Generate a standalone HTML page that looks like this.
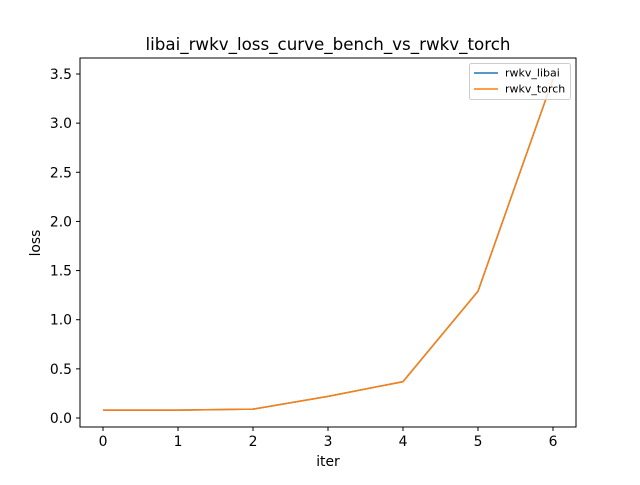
<!DOCTYPE html>
<html><head><meta charset="utf-8"><style>
body{margin:0;background:#fff}
text{font-family:"DejaVu Sans","Liberation Sans",sans-serif;fill:#000}
</style></head><body>
<svg id="chart" width="640" height="480" xmlns="http://www.w3.org/2000/svg">
<rect width="640" height="480" fill="#fff"/>
<text x="328" y="50" font-size="16.7" text-anchor="middle">libai_rwkv_loss_curve_bench_vs_rwkv_torch</text>
<g id="axes"></g>
<g id="series"></g>
<rect x="80" y="58" width="496" height="369" fill="none" stroke="#000" stroke-width="1"/>
<g>
<rect x="469.5" y="63.5" width="101" height="36" rx="2" fill="#fff" fill-opacity="0.8" stroke="#ccc"/>
<line x1="474" y1="73" x2="498" y2="73" stroke="#1f77b4" stroke-width="1.5"/>
<text x="505" y="76.5" font-size="11">rwkv_libai</text>
<line x1="474" y1="89" x2="498" y2="89" stroke="#ff7f0e" stroke-width="1.5"/>
<text x="505" y="92.5" font-size="11">rwkv_torch</text>
</g>
<text x="328" y="466" font-size="13.9" text-anchor="middle">iter</text>
<text transform="translate(40,243) rotate(-90)" font-size="13.9" text-anchor="middle">loss</text>
</svg>
<script>
const iters=[0,1,2,3,4,5,6];
const libaiLoss=[0.08,0.08,0.09,0.22,0.37,1.29,3.45];
const torchLoss=[0.08,0.08,0.09,0.22,0.37,1.29,3.45];
const xTicks=[0,1,2,3,4,5,6];
const yTicks=[0.0,0.5,1.0,1.5,2.0,2.5,3.0,3.5];
const NS="http://www.w3.org/2000/svg";
function xs(v){return 103+v*75;}
function ys(v){return 418-v*(344/3.5);}
const axes=document.getElementById('axes');
xTicks.forEach(t=>{
 const l=document.createElementNS(NS,'line');
 l.setAttribute('x1',xs(t));l.setAttribute('x2',xs(t));l.setAttribute('y1',427);l.setAttribute('y2',431);l.setAttribute('stroke','#000');
 
 
 axes.appendChild(l);
 const tx=document.createElementNS(NS,'text');
 tx.setAttribute('x',xs(t));tx.setAttribute('y',446);tx.setAttribute('font-size','13.9');tx.setAttribute('text-anchor','middle');tx.textContent=t;
 
 
 axes.appendChild(tx);
});
yTicks.forEach(t=>{
 const l=document.createElementNS(NS,'line');
 l.setAttribute('x1',76);l.setAttribute('x2',80);l.setAttribute('y1',ys(t));l.setAttribute('y2',ys(t));l.setAttribute('stroke','#000');
 
 
 axes.appendChild(l);
 const tx=document.createElementNS(NS,'text');
 tx.setAttribute('x',72);tx.setAttribute('y',ys(t)+5);tx.setAttribute('font-size','13.9');tx.setAttribute('text-anchor','end');tx.textContent=t.toFixed(1);
 
 
 axes.appendChild(tx);
});
const series=document.getElementById('series');
function line(vals,color,name){
 const p=document.createElementNS(NS,'polyline');
 p.setAttribute('points',vals.map((v,i)=>xs(iters[i])+','+ys(v)).join(' '));
 p.setAttribute('fill','none');p.setAttribute('stroke',color);p.setAttribute('stroke-width','1.5');
 
 
 series.appendChild(p);
}
line(libaiLoss,'#1f77b4','line-rwkv-libai');
line(torchLoss,'#ff7f0e','line-rwkv-torch');
</script>
</body></html>
